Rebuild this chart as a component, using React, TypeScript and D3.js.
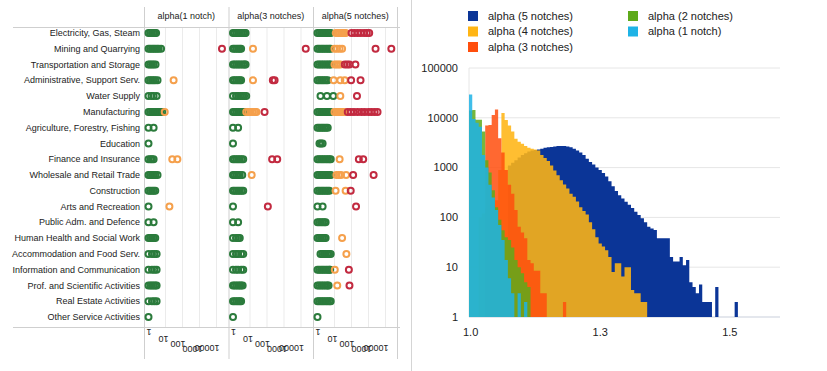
import React from 'react';
import * as d3 from 'd3';

const FONT = 'Arial, "Liberation Sans", sans-serif';

// ---- left panel: dot plot per sector ----
const categories = [
  'Electricity, Gas, Steam',
  'Mining and Quarrying',
  'Transportation and Storage',
  'Administrative, Support Serv.',
  'Water Supply',
  'Manufacturing',
  'Agriculture, Forestry, Fishing',
  'Education',
  'Finance and Insurance',
  'Wholesale and Retail Trade',
  'Construction',
  'Arts and Recreation',
  'Public Adm. and Defence',
  'Human Health and Social Work',
  'Accommodation and Food Serv.',
  'Information and Communication',
  'Prof. and Scientific Activities',
  'Real Estate Activities',
  'Other Service Activities',
];

const columnTitles = ['alpha(1 notch)', 'alpha(3 notches)', 'alpha(5 notches)'];
const dotTicks = [1, 10, 100, 1000, 10000];

type RowDots = { g: number[]; o?: number[]; r?: number[] };

const dots1: RowDots[] = [
  { g: [1, 1.25, 1.6, 2, 2.4, 2.8] },
  { g: [1, 1.25, 1.6, 2, 2.5, 3.2, 4, 5.5], r: [21000] },
  { g: [1, 1.25, 1.6, 2, 2.6] },
  { g: [1, 1.25, 1.6, 2, 2.5, 3.4], o: [30] },
  { g: [1, 1.5, 2, 3] },
  { g: [1, 1.25, 1.6, 2, 2.5, 3.2, 4, 5, 6.5], o: [9] },
  { g: [1, 2] },
  { g: [1] },
  { g: [1, 1.3, 1.6, 2], o: [25, 50] },
  { g: [1, 1.25, 1.6, 2, 2.5, 3.4] },
  { g: [1, 1.25, 1.6, 2, 2.5] },
  { g: [1], o: [17] },
  { g: [1, 2] },
  { g: [1, 1.25, 1.6, 2, 2.5] },
  { g: [1, 1.6, 2.2, 3] },
  { g: [1, 1.6, 2.2, 3] },
  { g: [1, 1.3, 1.6, 2, 2.5, 3] },
  { g: [1, 1.6, 2.2, 3] },
  { g: [1] },
];

const dots3: RowDots[] = [
  { g: [1, 1.25, 1.6, 2, 2.5, 3.2, 4, 5, 5.5] },
  { g: [1, 1.25, 1.6, 2, 2.5, 3], o: [15], r: [19000] },
  { g: [1, 1.25, 1.6, 2, 2.5, 3.2, 4, 5, 5.5] },
  { g: [1, 1.25, 1.6, 2, 2.5, 3], o: [15], r: [220, 280] },
  { g: [1, 1.5, 2, 2.7, 3.5, 4.5, 6] },
  { g: [1, 1.25, 1.6, 2, 2.5, 3.2, 4, 5, 6], o: [6, 8, 11, 15, 20, 24], r: [72] },
  { g: [1, 2] },
  { g: [1] },
  { g: [1, 1.25, 1.6, 2, 2.5, 3.2, 4], r: [200, 400] },
  { g: [1, 1.25, 1.6, 2, 2.5, 3.5], o: [12.6] },
  { g: [1, 1.25, 1.6, 2, 2.5, 3.2, 4] },
  { g: [1], r: [112] },
  { g: [1, 2] },
  { g: [1, 1.5, 2, 2.5] },
  { g: [1, 1.5, 2, 3, 4] },
  { g: [1, 1.5, 2, 3, 4] },
  { g: [1, 1.25, 1.6, 2, 2.5, 3, 3.7] },
  { g: [1, 1.25, 1.6, 2, 2.5, 3] },
  { g: [1] },
];

const dots5: RowDots[] = [
  { g: [1, 1.25, 1.6, 2, 2.5, 3.2, 4, 5, 6], o: [12, 16, 20, 25, 32, 40, 45], r: [100, 150, 230, 350, 550, 800, 1100] },
  { g: [1, 1.25, 1.6, 2, 2.5, 3.2, 4, 5, 6], o: [10, 14, 20, 28], r: [2600, 22000] },
  { g: [1, 1.25, 1.6, 2, 2.5, 3.2, 4, 5, 6], o: [10, 13, 17, 22], r: [40, 55, 75, 170] },
  { g: [1, 1.25, 1.6, 2, 2.5, 3.2, 4], o: [9, 22, 40], r: [95, 340] },
  { g: [1.5, 3.6, 8.5], o: [22], r: [210] },
  { g: [1, 1.25, 1.6, 2, 2.5, 3.2, 4, 5, 6], o: [10, 13, 16, 20, 25, 32, 40], r: [60, 90, 140, 230, 380, 600, 1000, 1500, 2300, 3400] },
  { g: [1, 1.25, 1.6, 2, 2.5, 3.2, 4] },
  { g: [1.3, 1.6, 2] },
  { g: [1, 1.25, 1.6, 2, 2.5, 3.2, 4, 5, 6], o: [20], r: [270, 490] },
  { g: [1, 1.25, 1.6, 2, 2.5, 3.2, 4, 5, 6], o: [13, 18, 24, 48], r: [125, 2000] },
  { g: [1, 1.25, 1.6, 2, 2.5, 3.2, 4, 5], o: [11.6, 45], r: [90] },
  { g: [1, 2], r: [185] },
  { g: [1, 1.25, 1.6, 2, 2.5, 3] },
  { g: [1, 1.25, 1.6, 2, 2.5, 3], o: [28] },
  { g: [1.5, 1.9, 2.4, 3, 3.8, 4.8, 6], o: [50] },
  { g: [1, 1.25, 1.6, 2, 2.5, 3.2, 4, 5, 5.5], o: [10.4], r: [70] },
  { g: [1, 1.25, 1.6, 2, 2.5, 3.2, 4, 4.5], o: [14.5], r: [76] },
  { g: [1, 1.25, 1.6, 2, 2.5, 3.2, 4, 5, 6] },
  { g: [1] },
];

const dotColumns = [dots1, dots3, dots5];
const dotColors = { g: '#2b7b3c', o: '#f5a04c', r: '#c22a40' };

// ---- right panel: histogram (bins of 0.00625 starting at 1.0) ----
const binStart = 1.0;
const binWidth = 0.00625;

const alpha1 = [29500, 9500, 8000, 6600, 1800, 1000, 450, 250, 140, 70, 35, 14, 6, 3, 0, 3, 0, 2];
const alpha2 = [14000, 14400, 9100, 9100, 5300, 1400, 800, 350, 160, 90, 55, 40, 35, 25, 14, 10, 7.6, 5, 4];
const alpha3 = [0, 0, 0, 0, 0, 7000, 7200, 11400, 14700, 3900, 2000, 900, 450, 300, 140, 65, 50, 38, 14, 12, 8.5, 8.5, 3, 3, 0, 0, 0, 0, 0, 2];
const alpha4 = [
  0, 0, 0, 100, 120, 150, 180, 200, 220, 900,
  12500, 9000, 7000, 5300, 3800, 3300, 3000, 2700, 2500, 2400,
  2300, 2200, 1800, 1550, 1350, 1100, 870, 700, 560, 460,
  380, 300, 260, 208, 160, 135, 115, 80, 58, 40,
  30, 26, 22, 16, 8, 12, 12, 6.5, 10, 10,
  3.5, 3, 3, 2, 2,
];
const alpha5 = [
  0, 0, 0, 0, 0, 0, 0, 0, 0, 0,
  0, 0, 1100, 1250, 1400, 1600, 1800, 1950, 2100, 2200,
  2250, 2300, 2400, 2500, 2550, 2600, 2650, 2700, 2700, 2700,
  2650, 2550, 2400, 2200, 2000, 1800, 1500, 1300, 1150, 1000,
  900, 780, 660, 530, 420, 340, 280, 240, 207, 180,
  155, 130, 112, 96, 80, 65, 60, 56, 38, 38,
  38, 38, 16, 13, 13, 16, 11, 14, 5, 4,
  3, 4.5, 2, 2, 2, 0, 4, 0, 0, 0,
  0, 0, 2,
];

const histSeries = [
  { name: 'alpha (5 notches)', color: '#0b3597', values: alpha5, opacity: 1 },
  { name: 'alpha (4 notches)', color: '#ffb514', values: alpha4, opacity: 0.88 },
  { name: 'alpha (3 notches)', color: '#ff4e0d', values: alpha3, opacity: 0.85 },
  { name: 'alpha (2 notches)', color: '#5eaa1a', values: alpha2, opacity: 0.85 },
  { name: 'alpha (1 notch)', color: '#1eb3e6', values: alpha1, opacity: 0.85 },
];
const legendOrder = [
  ['alpha (5 notches)', 'alpha (4 notches)', 'alpha (3 notches)'],
  ['alpha (2 notches)', 'alpha (1 notch)'],
];
const histXTicks = [1.0, 1.25, 1.5];
const histYTicks = [1, 10, 100, 1000, 10000, 100000];

// rotated axis label baselines under the dot columns
const tickLabelY = [329, 336, 341, 346, 345];

function DotPanel() {
  const rowY = d3.scalePoint<string>().domain(categories).range([33, 317]);
  const colX = d3.scaleBand<number>().domain([0, 1, 2]).range([144, 397.5]);
  const valX = d3.scaleLog().domain([1, 10000]).range([4.5, 72.5]);

  return (
    <g>
      {/* header / footer rules */}
      <line x1={13} x2={400} y1={27.5} y2={27.5} stroke="#cfcfcf" />
      <line x1={13} x2={400} y1={327.5} y2={327.5} stroke="#cfcfcf" />

      {columnTitles.map((t, ci) => {
        const x0 = colX(ci)!;
        return (
          <g key={t}>
            {dotTicks.slice(1).map((v) => (
              <line key={v} x1={x0 + valX(v)} x2={x0 + valX(v)} y1={28} y2={327} stroke="#ebebeb" />
            ))}
            <line x1={x0 + 0.5} x2={x0 + 0.5} y1={7} y2={359} stroke="#cfcfcf" />
            <text x={x0 + colX.bandwidth() / 2} y={19} textAnchor="middle" fontSize={9} fill="#222">
              {t}
            </text>
            {dotTicks.map((v, k) => {
              const tx = x0 + valX(v) + 3;
              const ty = tickLabelY[k];
              return (
                <text key={v} x={tx} y={ty} fontSize={9} fill="#222" transform={`rotate(180,${tx},${ty})`}>
                  {v}
                </text>
              );
            })}
          </g>
        );
      })}
      <line x1={397.5} x2={397.5} y1={7} y2={359} stroke="#cfcfcf" />

      {categories.map((c) => (
        <text key={c} x={140} y={rowY(c)!} dy="0.35em" textAnchor="end" fontSize={9} fill="#222">
          {c}
        </text>
      ))}

      {dotColumns.map((col, ci) => {
        const x0 = colX(ci)!;
        return col.map((row, ri) => {
          const cy = rowY(categories[ri])!;
          return (['g', 'o', 'r'] as const).map((k) =>
            (row[k] || []).map((v, j) => (
              <circle
                key={`${ci}-${ri}-${k}-${j}`}
                cx={x0 + valX(v)}
                cy={cy}
                r={3}
                fill="none"
                stroke={dotColors[k]}
                strokeWidth={2}
              />
            ))
          );
        });
      })}
    </g>
  );
}

function HistPanel() {
  const x = d3.scaleLinear().domain([1.0, 1.6]).range([469, 780]);
  const y = d3.scaleLog().domain([1, 100000]).range([317, 68]);
  const area = d3
    .area<[number, number]>()
    .x((d) => x(d[0]))
    .y0(y(1))
    .y1((d) => y(Math.max(1, d[1])))
    .curve(d3.curveStepAfter);

  const points = (vals: number[]): [number, number][] => [
    ...vals.map((v, i) => [binStart + i * binWidth, v] as [number, number]),
    [binStart + vals.length * binWidth, 1],
  ];
  const fmt = d3.format('.1f');
  const colorOf = (n: string) => histSeries.find((s) => s.name === n)!.color;

  return (
    <g>
      {histYTicks.map((t) => (
        <g key={t}>
          <line x1={469} x2={780} y1={y(t)} y2={y(t)} stroke={t === 1 ? '#c9cfdb' : '#e6e6e6'} />
          <text x={458} y={y(t)} dy="0.35em" textAnchor="end" fontSize={11} fill="#222">
            {t}
          </text>
        </g>
      ))}
      <line x1={469} x2={469} y1={68} y2={317} stroke="#e6e6e6" />

      {histSeries.map((s) => (
        <path key={s.name} d={area(points(s.values)) || ''} fill={s.color} fillOpacity={s.opacity} />
      ))}

      {histXTicks.map((t) => (
        <text key={t} x={x(t + binWidth / 2)} y={336} textAnchor="middle" fontSize={11} fill="#222">
          {fmt(t)}
        </text>
      ))}

      {legendOrder.map((col, ci) =>
        col.map((n, ri) => {
          const lx = ci === 0 ? 468 : 628;
          const ly = 16 + ri * 15.5;
          return (
            <g key={n}>
              <rect x={lx} y={ly - 5} width={10} height={10} fill={colorOf(n)} />
              <text x={lx + 20} y={ly} dy="0.35em" fontSize={11} fill="#222">
                {n}
              </text>
            </g>
          );
        })
      )}
    </g>
  );
}

export default function App() {
  return (
    <svg
      width={827}
      height={371}
      style={{ position: 'absolute', left: 0, top: 0, background: '#fff', fontFamily: FONT }}
    >
      <rect width={827} height={371} fill="#fff" />
      <DotPanel />
      <line x1={411.5} x2={411.5} y1={0} y2={371} stroke="#d5d5d5" />
      <HistPanel />
    </svg>
  );
}
